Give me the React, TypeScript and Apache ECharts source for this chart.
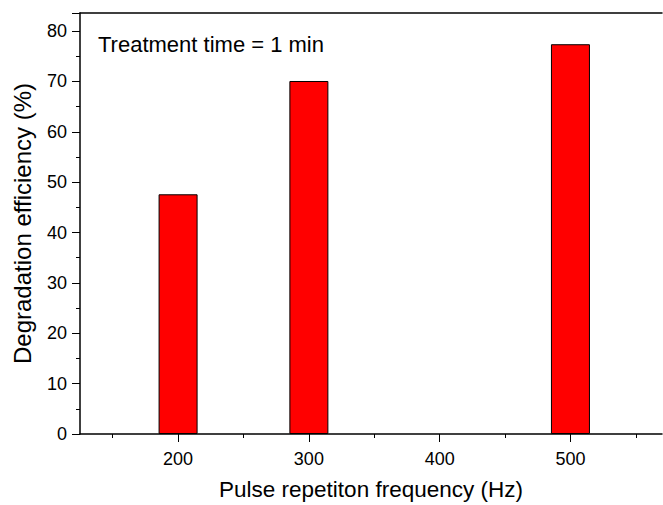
import React, { useEffect, useRef } from "react";
import * as echarts from "echarts";

const frequencies = [200, 300, 500];
const efficiencies = [47.6, 70.1, 77.4];
const xTickLabels = [200, 300, 400, 500];
const xMinorTicks = [150, 250, 350, 450, 550];

const FONT = "'Liberation Sans', Arial, sans-serif";

export default function App() {
  const ref = useRef<HTMLDivElement>(null);
  useEffect(() => {
    if (!ref.current) return;
    const chart = echarts.init(ref.current, undefined, { renderer: "svg" });
    const xBase = { type: "value", min: 125, max: 570 };
    chart.setOption({
      animation: false,
      backgroundColor: "#fff",
      grid: { left: 80, right: 1, top: 13, bottom: 71, containLabel: false, outerBoundsMode: "none" },
      xAxis: [
        {
          ...xBase,
          position: "bottom",
          name: "Pulse repetiton frequency (Hz)",
          nameLocation: "middle",
          nameGap: 44,
          nameTextStyle: { fontFamily: FONT, fontSize: 22.5, color: "#000" },
          axisLine: { show: true, lineStyle: { color: "#000", width: 1.5 } },
          axisTick: { show: true, length: 8, customValues: xTickLabels, lineStyle: { color: "#000" } },
          axisLabel: { customValues: xTickLabels, margin: 16, fontFamily: FONT, fontSize: 18, color: "#000" },
          splitLine: { show: false },
        },
        {
          ...xBase,
          position: "bottom",
          axisLine: { show: false },
          axisTick: { show: true, length: 4, customValues: xMinorTicks, lineStyle: { color: "#000" } },
          axisLabel: { show: false },
          splitLine: { show: false },
        },
        {
          ...xBase,
          position: "top",
          axisLine: { show: true, lineStyle: { color: "#000", width: 1.5 } },
          axisTick: { show: false },
          axisLabel: { show: false },
          splitLine: { show: false },
        },
      ],
      yAxis: {
        type: "value",
        min: 0,
        max: 83.6,
        interval: 10,
        name: "Degradation efficiency (%)",
        nameLocation: "middle",
        nameGap: 46,
        nameTextStyle: { fontFamily: FONT, fontSize: 24, color: "#000" },
        axisLine: { show: true, lineStyle: { color: "#000", width: 1.5 } },
        axisTick: { show: true, length: 8, lineStyle: { color: "#000" } },
        minorTick: { show: true, splitNumber: 2, length: 4, lineStyle: { color: "#000" } },
        axisLabel: {
          margin: 13,
          fontFamily: FONT,
          fontSize: 18,
          color: "#000",
          formatter: (v: number) => (v % 10 === 0 && v <= 80 ? String(v) : ""),
        },
        splitLine: { show: false },
      },
      graphic: [
        {
          type: "text",
          left: 98,
          top: 33,
          style: { text: "Treatment time = 1 min", fontFamily: FONT, fontSize: 22, fill: "#000" },
        },
      ],
      series: [
        {
          type: "bar",
          xAxisIndex: 0,
          barWidth: 39,
          data: frequencies.map((f, i) => [f, efficiencies[i]]),
          itemStyle: { color: "#ff0000", borderColor: "#000", borderWidth: 1 },
        },
      ],
    });
    return () => chart.dispose();
  }, []);
  return <div ref={ref} style={{ width: 663, height: 505, position: "absolute", left: 0, top: 0 }} />;
}
